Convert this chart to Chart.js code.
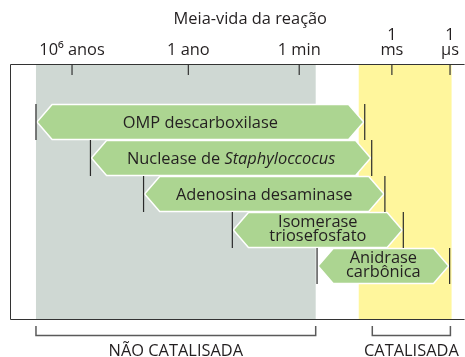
<!DOCTYPE html>
<html><head><meta charset="utf-8">
<script src="https://cdn.jsdelivr.net/npm/chart.js@4.4.1/dist/chart.umd.min.js"></script>
<style>html,body{margin:0;padding:0;background:#fff;}canvas{display:block;}</style>
</head><body>
<canvas id="c" width="465" height="357"></canvas>
<script>
// Half-lives expressed as log10(seconds)
const enzymes = [
  ['OMP descarboxilase'],
  ['Nuclease de Staphyloccocus'],
  ['Adenosina desaminase'],
  ['Isomerase', 'triosefosfato'],
  ['Anidrase', 'carbônica']
];
const uncatalyzedLog = [15.36, 12.55, 9.81, 5.23, 0.86];
const catalyzedLog = [-1.60, -1.96, -2.64, -3.59, -5.98];
const italicWords = ['Staphyloccocus'];
const axisTitle = 'Meia-vida da reação';
const tickValues = [13.5, 7.5, 1.78, -3, -6];
const tickLabels = ['10⁶ anos', '1 ano', '1 min', ['1', 'ms'], ['1', 'µs']];
const shadedRanges = [[15.36, 0.93], [-1.29, -6.08]];
const bracketRanges = [[15.36, 0.93], [-1.99, -6.02]];
const bracketLabels = ['NÃO CATALISADA', 'CATALISADA'];

const FONT = '"Open Sans", sans-serif';
const FS = 16.4;
const TEXT = '#231f20';
const GREEN = '#acd591';
const SHADES = ['#cfd8d3', '#fff69c'];

function drawMixedLine(ctx, line, cx, y) {
  const words = line.split(' ');
  const parts = words.map((w, i) => ({ text: w + (i < words.length - 1 ? ' ' : ''), italic: italicWords.includes(w) }));
  let total = 0;
  parts.forEach(p => { ctx.font = (p.italic ? 'italic ' : '') + FS + 'px ' + FONT; p.w = ctx.measureText(p.text).width; total += p.w; });
  let x = cx - total / 2;
  ctx.textAlign = 'left';
  parts.forEach(p => { ctx.font = (p.italic ? 'italic ' : '') + FS + 'px ' + FONT; ctx.fillText(p.text, x, y); x += p.w; });
}

const diagram = {
  id: 'diagram',
  beforeDatasetsDraw(chart) {
    const { ctx, chartArea: a, scales: { x } } = chart;
    ctx.save();
    shadedRanges.forEach((r, i) => {
      const x0 = x.getPixelForValue(r[0]), x1 = x.getPixelForValue(r[1]);
      ctx.fillStyle = SHADES[i];
      ctx.fillRect(Math.min(x0, x1), a.top, Math.abs(x1 - x0), a.bottom - a.top);
    });
    ctx.restore();
  },
  afterDatasetsDraw(chart) {
    const { ctx, chartArea: a, scales: { x } } = chart;
    const meta = chart.getDatasetMeta(0);
    ctx.save();
    const rows = meta.data.map(el => {
      const p = el.getProps(['x', 'base', 'y', 'height'], true);
      return { L: Math.min(p.x, p.base), R: Math.max(p.x, p.base), cy: p.y, h: p.height };
    });
    // arrows
    rows.forEach(r => {
      const top = r.cy - r.h / 2, bot = r.cy + r.h / 2, ind = r.h * 0.42;
      ctx.beginPath();
      ctx.moveTo(r.L + 1, r.cy);
      ctx.lineTo(r.L + 1 + ind, top + 0.5);
      ctx.lineTo(r.R - 1 - ind, top + 0.5);
      ctx.lineTo(r.R - 1, r.cy);
      ctx.lineTo(r.R - 1 - ind, bot - 0.5);
      ctx.lineTo(r.L + 1 + ind, bot - 0.5);
      ctx.closePath();
      ctx.fillStyle = GREEN;
      ctx.fill();
      ctx.strokeStyle = '#ffffff';
      ctx.lineWidth = 1.5;
      ctx.stroke();
    });
    // end markers
    ctx.strokeStyle = '#2a2a2a';
    ctx.lineWidth = 1.2;
    rows.forEach(r => {
      const top = r.cy - r.h / 2, bot = r.cy + r.h / 2;
      [r.L, r.R].forEach(px => {
        ctx.beginPath(); ctx.moveTo(px, top); ctx.lineTo(px, bot); ctx.stroke();
      });
    });
    // labels
    ctx.fillStyle = TEXT;
    ctx.textBaseline = 'alphabetic';
    rows.forEach((r, i) => {
      const lines = enzymes[i];
      const cx = (r.L + r.R) / 2;
      const offs = lines.length === 1 ? [5.7] : [-2.8, 11];
      lines.forEach((ln, j) => drawMixedLine(ctx, ln, cx, r.cy + offs[j]));
    });
    // frame
    ctx.strokeStyle = '#333';
    ctx.lineWidth = 1;
    ctx.beginPath();
    ctx.moveTo(a.right, a.top + 0.5);
    ctx.lineTo(a.left + 0.5, a.top + 0.5);
    ctx.lineTo(a.left + 0.5, a.bottom + 0.5);
    ctx.lineTo(a.right, a.bottom + 0.5);
    ctx.stroke();
    // tick marks
    ctx.lineWidth = 1.2;
    tickValues.forEach(v => {
      const px = x.getPixelForValue(v);
      ctx.beginPath(); ctx.moveTo(px, a.top); ctx.lineTo(px, a.top + 11); ctx.stroke();
    });
    // title
    ctx.font = FS + 'px ' + FONT;
    ctx.textAlign = 'center';
    ctx.fillText(axisTitle, (x.getPixelForValue(shadedRanges[0][0]) + a.right) / 2, 24);
    // brackets
    ctx.strokeStyle = '#5a5a5a';
    ctx.lineWidth = 1.5;
    bracketRanges.forEach((r, i) => {
      const x0 = x.getPixelForValue(r[0]), x1 = x.getPixelForValue(r[1]);
      const yT = a.bottom + 7, yB = a.bottom + 16.5;
      ctx.beginPath();
      ctx.moveTo(x0, yT); ctx.lineTo(x0, yB); ctx.lineTo(x1, yB); ctx.lineTo(x1, yT);
      ctx.stroke();
      ctx.fillStyle = TEXT;
      ctx.font = FS + 'px ' + FONT;
      ctx.textAlign = 'center';
      ctx.fillText(bracketLabels[i], (x0 + x1) / 2, a.bottom + 36.5);
    });
    ctx.restore();
  }
};

new Chart(document.getElementById('c'), {
  type: 'bar',
  data: {
    datasets: [{
      data: enzymes.map((_, i) => ({ y: i, x: [catalyzedLog[i], uncatalyzedLog[i]] })),
      backgroundColor: 'rgba(0,0,0,0)',
      borderWidth: 0,
      barPercentage: 1,
      categoryPercentage: 1
    }]
  },
  options: {
    indexAxis: 'y',
    responsive: false,
    animation: false,
    devicePixelRatio: 1,
    events: [],
    layout: { padding: { left: 10, right: 0, top: 0, bottom: 38 } },
    plugins: { legend: { display: false }, tooltip: { enabled: false } },
    scales: {
      x: {
        type: 'linear', position: 'top', reverse: true, min: -6.75, max: 16.7, offset: false,
        afterBuildTicks: s => { s.ticks = tickValues.map(v => ({ value: v })); },
        afterFit: s => { s.height = 64; },
        grid: { display: false, drawTicks: false },
        border: { display: false },
        ticks: {
          autoSkip: false, maxRotation: 0, padding: 6, color: TEXT,
          font: { family: FONT, size: FS, lineHeight: 0.92 },
          callback: (v, i) => tickLabels[i]
        }
      },
      y: {
        type: 'linear', display: false, reverse: true, min: -1.611, max: 5.472, offset: false,
        grid: { offset: false },
        afterBuildTicks: s => { s.ticks = enzymes.map((_, i) => ({ value: i })); }
      }
    }
  },
  plugins: [diagram]
});
</script>
</body></html>
